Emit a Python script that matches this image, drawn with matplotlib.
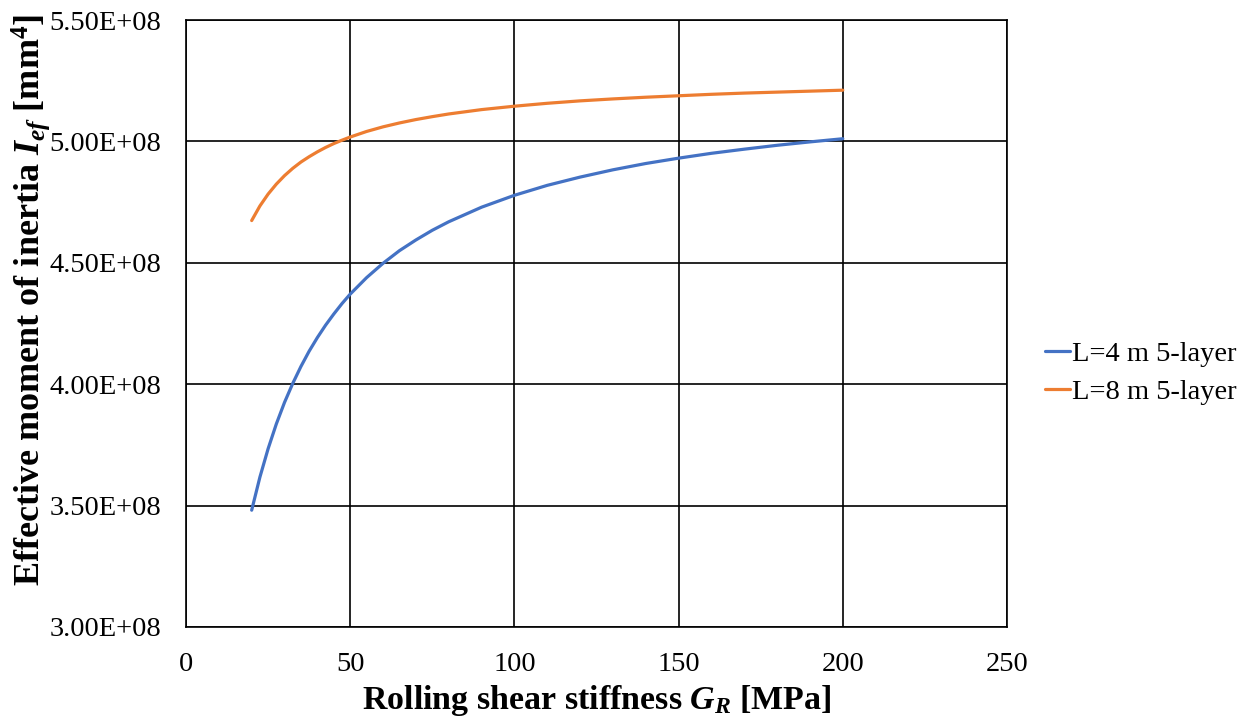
import matplotlib
matplotlib.use('Agg')
import matplotlib.pyplot as plt
from matplotlib.ticker import FuncFormatter, MultipleLocator

plt.rcParams['font.family'] = ['Liberation Serif', 'DejaVu Serif']
plt.rcParams['mathtext.fontset'] = 'custom'
plt.rcParams['mathtext.rm'] = 'Liberation Serif:bold'
plt.rcParams['mathtext.it'] = 'Liberation Serif:italic:bold'
plt.rcParams['mathtext.bf'] = 'Liberation Serif:bold'

# rolling shear stiffness G_R [MPa]
g_r = [20, 22.5, 25, 27.5, 30, 32.5, 35, 37.5, 40, 42.5, 45, 47.5, 50,
       55, 60, 65, 70, 75, 80, 90, 100, 110, 120, 130, 140, 150, 160,
       170, 180, 190, 200]

# effective moment of inertia [mm^4]
i_ef_4m = [3.481e8, 3.617e8, 3.734e8, 3.836e8, 3.925e8, 4.003e8, 4.073e8,
           4.136e8, 4.192e8, 4.243e8, 4.289e8, 4.332e8, 4.371e8,
           4.439e8, 4.498e8, 4.550e8, 4.594e8, 4.634e8, 4.669e8, 4.729e8,
           4.778e8, 4.819e8, 4.853e8, 4.883e8, 4.909e8, 4.931e8, 4.951e8,
           4.968e8, 4.984e8, 4.998e8, 5.011e8]
i_ef_8m = [4.674e8, 4.734e8, 4.783e8, 4.824e8, 4.859e8, 4.889e8, 4.915e8,
           4.937e8, 4.957e8, 4.975e8, 4.991e8, 5.005e8, 5.018e8,
           5.041e8, 5.060e8, 5.076e8, 5.090e8, 5.102e8, 5.113e8, 5.131e8,
           5.145e8, 5.157e8, 5.167e8, 5.175e8, 5.182e8, 5.188e8, 5.194e8,
           5.199e8, 5.203e8, 5.207e8, 5.211e8]

series_names = ['L=4 m 5-layer', 'L=8 m 5-layer']
colors = ['#4472C4', '#ED7D31']

fig = plt.figure(figsize=(12.5, 7.2), dpi=100)
ax = fig.add_axes([0.1488, 0.1292, 0.6568, 0.843])

ax.plot(g_r, i_ef_4m, color=colors[0], lw=2.3, label=series_names[0],
        solid_capstyle='round')
ax.plot(g_r, i_ef_8m, color=colors[1], lw=2.3, label=series_names[1],
        solid_capstyle='round')

ax.set_xlim(0, 250)
ax.set_ylim(3.0e8, 5.5e8)
ax.xaxis.set_major_locator(MultipleLocator(50))
ax.yaxis.set_major_locator(MultipleLocator(0.5e8))
ax.yaxis.set_major_formatter(FuncFormatter(lambda v, p: f'{v:.2E}'))
ax.grid(True, color='black', lw=1.2)
ax.set_axisbelow(True)
for s in ax.spines.values():
    s.set_color('black')
    s.set_linewidth(1.2)
ax.tick_params(length=0, labelsize=20.5)
ax.tick_params(axis='y', pad=18)
ax.tick_params(axis='x', pad=18)

ax.set_xlabel('Rolling shear stiffness $G_R$ [MPa]', fontsize=24.5,
              fontweight='bold', labelpad=4)
ax.set_ylabel('Effective moment of inertia $I_{ef}$ [mm$^4$]', fontsize=26,
              fontweight='bold')
ax.yaxis.set_label_coords(-0.163, 0.539)

ax.legend(loc='center left', bbox_to_anchor=(1.0146, 0.4184), frameon=False,
          fontsize=20.5, handlelength=0.9, handletextpad=0.05,
          labelspacing=0.45)

fig.savefig('out.png', dpi=100)
